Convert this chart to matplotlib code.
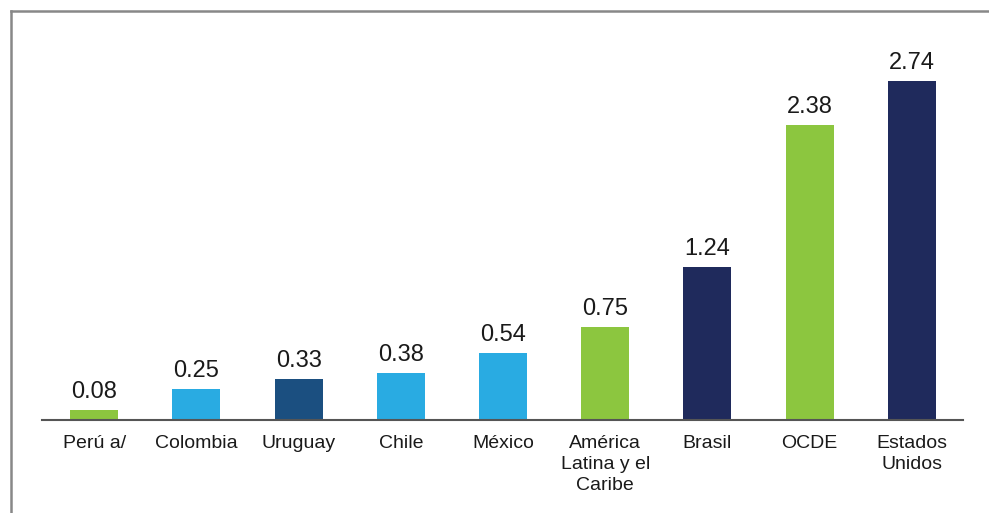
import numpy as np
import matplotlib.pyplot as plt
from matplotlib.lines import Line2D

# Data
CATEGORIES = ['Perú a/', 'Colombia', 'Uruguay', 'Chile', 'México',
              'América\nLatina y el\nCaribe', 'Brasil', 'OCDE', 'Estados\nUnidos']
VALUES = [0.08, 0.25, 0.33, 0.38, 0.54, 0.75, 1.24, 2.38, 2.74]
COLORS = ['#8cc63f', '#29abe2', '#1b4f80', '#29abe2', '#29abe2',
          '#8cc63f', '#1f2a5c', '#8cc63f', '#1f2a5c']

plt.rcParams['font.family'] = ['Liberation Sans', 'DejaVu Sans']

W, H = 989, 513
fig = plt.figure(figsize=(W / 100, H / 100), dpi=100)
fig.patch.set_facecolor('white')

# Axes placed in pixel units
left, right, bottom, top = 42, 963, 420, 40
ax = fig.add_axes([left / W, (H - bottom) / H, (right - left) / W, (bottom - top) / H])

x = np.arange(len(CATEGORIES))
bars = ax.bar(x, VALUES, width=0.47, color=COLORS, zorder=2)

for b, v in zip(bars, VALUES):
    ax.annotate(f'{v:.2f}', (b.get_x() + b.get_width() / 2, v),
                xytext=(0, 5), textcoords='offset points',
                ha='center', va='bottom', fontsize=17, color='#1a1a1a')

ax.set_xlim(-0.51, 8.5)
ax.set_ylim(0, 3.07)
ax.set_xticks(x)
ax.set_xticklabels(CATEGORIES, fontsize=14, color='#1a1a1a', linespacing=1.3, va='top')
ax.tick_params(axis='x', length=0, pad=11)
ax.set_yticks([])

for s in ['top', 'right', 'left']:
    ax.spines[s].set_visible(False)
ax.spines['bottom'].set_color('#555555')
ax.spines['bottom'].set_linewidth(1.5)

# Outer frame (top and left edges)
fx, fy = 10.5 / W, 1 - 11 / H
fig.add_artist(Line2D([fx, 1], [fy, fy], transform=fig.transFigure, color='#888888', lw=1.8))
fig.add_artist(Line2D([fx, fx], [0, fy], transform=fig.transFigure, color='#888888', lw=1.8))

fig.savefig('out.png', dpi=100, facecolor='white')
